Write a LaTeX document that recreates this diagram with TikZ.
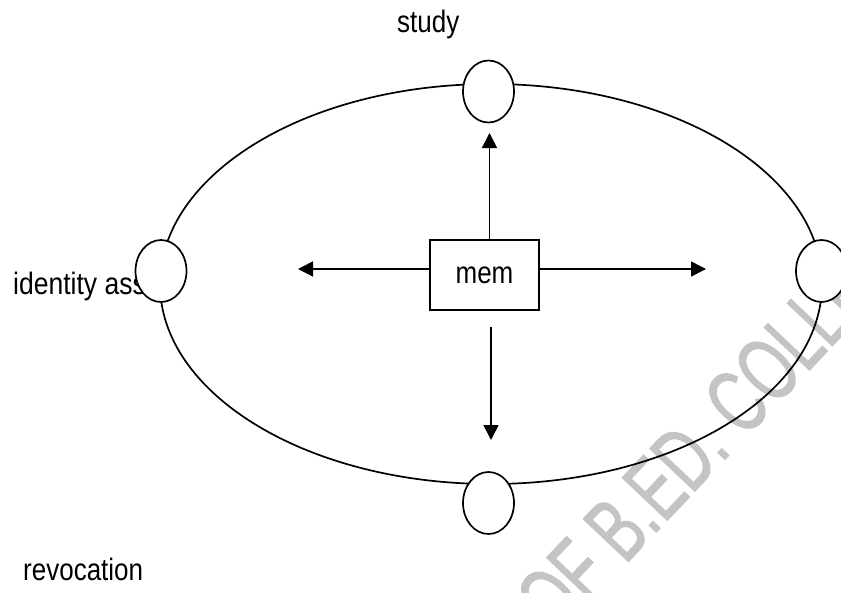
\documentclass[tikz,border=0pt]{standalone}
\usepackage{fontspec}
\setmainfont{Liberation Sans}
\newfontfamily\wmfont[FakeBold=1.5]{Liberation Sans}
\usetikzlibrary{shapes.geometric,arrows.meta}
\definecolor{wmgray}{gray}{0.77}
\begin{document}
\begin{tikzpicture}[x=1pt,y=-1pt,
  lbl/.style={anchor=base west,inner sep=0pt,font=\fontsize{26}{30}\selectfont},
  port/.style={ellipse,draw,fill=white,line width=1.7pt,minimum width=51pt,minimum height=62pt,inner sep=0pt},
  membox/.style={rectangle,draw,fill=white,line width=1.7pt,minimum width=109pt,minimum height=70pt,inner sep=0pt,font=\fontsize{26}{30}\selectfont},
  arr/.style={line width=1.6pt,-{Triangle[length=15pt,width=15pt]}},
  wmark/.style={anchor=base west,inner sep=0pt,text=wmgray,font=\wmfont\fontsize{90}{92}\selectfont}
]
\useasboundingbox (0,0) rectangle (841,592);
\fill[white] (0,0) rectangle (841,592);
% watermark
\begin{scope}
\clip (0,0) rectangle (841,592);
\node[wmark,rotate=46.6] (wm) at (556,638) {\scalebox{0.667}[1]{OF B.ED. COLLEGE}};
\end{scope}
% labels
\node[lbl] (lstudy) at (397,32) {\scalebox{1}[1.19]{study}};
\node[lbl] (lident) at (13,294) {\scalebox{1.02}[1.19]{identity ass}};
\node[lbl] (lrevoc) at (23,580) {\scalebox{1}[1.19]{revocation}};
% big ellipse
\draw[line width=1.7pt] (491,284) ellipse [x radius=331pt, y radius=200pt];
% small circles
\node[port] (cTop) at (488.5,91.5) {};
\node[port] (cBot) at (488.5,503) {};
\node[port] (cLeft) at (161,271) {};
\node[port] (cRight) at (821.5,271) {};
% centre box
\node[membox] (mem) at (484.5,275) {\scalebox{1}[1.19]{mem}};
% arrows
\coordinate (tipL) at (298,269);
\coordinate (tipR) at (706,269);
\coordinate (tipU) at (489.5,133);
\coordinate (startD) at (491,327);
\coordinate (tipD) at (491,440);
\draw[arr] (mem.west |- tipL) -- (tipL);
\draw[arr] (mem.east |- tipR) -- (tipR);
\draw[arr] (mem.north -| tipU) -- (tipU);
\draw[arr] (startD) -- (tipD);
\end{tikzpicture}
\end{document}
